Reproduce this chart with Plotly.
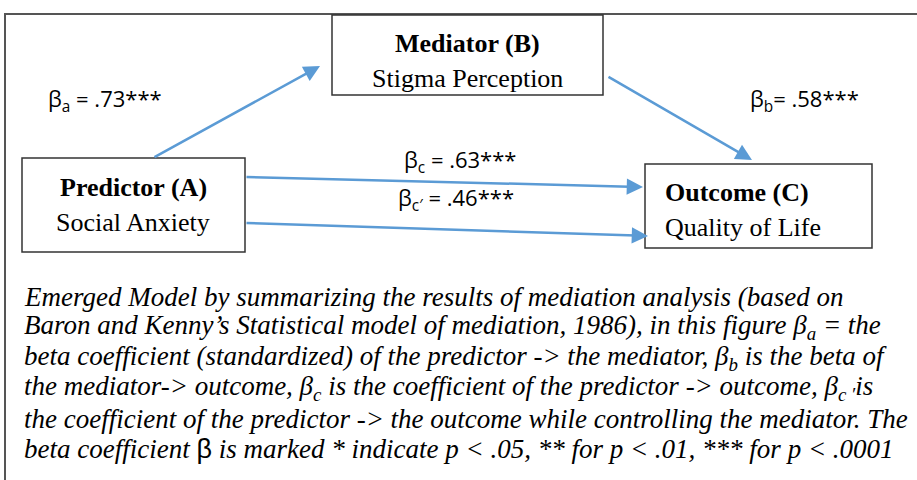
import plotly.graph_objects as go

# ---- data ----
node_titles = ["Predictor (A)", "Mediator (B)", "Outcome (C)"]
node_subtitles = ["Social Anxiety", "Stigma Perception", "Quality of Life"]
path_names = ["a", "b", "c", "c′"]
path_betas = [".73", ".58", ".63", ".46"]
path_stars = ["***", "***", "***", "***"]
caption_lines = [
    "Emerged Model by summarizing the results of mediation analysis (based on",
    "Baron and Kenny’s Statistical model of mediation, 1986), in this figure β<sub>a</sub> = the",
    "beta coefficient (standardized) of the predictor -> the mediator, β<sub>b</sub> is the beta of",
    "the mediator-> outcome, β<sub>c</sub> is the coefficient of the predictor -> outcome, β<sub>c ′</sub>is",
    "the coefficient of the predictor -> the outcome while controlling the mediator. The",
    "beta coefficient <span style=\"font-family:Liberation Sans;font-style:normal\">β</span> is marked * indicate p < .05, ** for p < .01, *** for p < .0001",
]

W, H = 917, 480
BLUE = "#5B9BD5"
BOXC = "#333333"
SERIF = "Liberation Serif, Times New Roman, serif"
SANS = "Open Sans, Carlito, Calibri, sans-serif"
SF = 26

fig = go.Figure()
fig.add_trace(go.Scatter(x=[0, W], y=[0, H], mode="markers", marker=dict(opacity=0), hoverinfo="skip", showlegend=False))

shapes = []
shapes.append(dict(type="rect", x0=5, y0=14, x1=W + 10, y1=H + 10, line=dict(color="#555555", width=2), layer="below"))

boxes = [(22, 158, 245, 252), (332, 15, 603, 95), (645, 164, 872, 248)]
for (x0, y0, x1, y1) in boxes:
    shapes.append(dict(type="rect", x0=x0, y0=y0, x1=x1, y1=y1,
                       line=dict(color=BOXC, width=1.5), fillcolor="rgba(0,0,0,0)"))

annotations = []
def txt(x, y, s, anchor="center", size=SF, fam=SERIF):
    annotations.append(dict(x=x, y=y, text=s, showarrow=False, xanchor=anchor, yanchor="middle",
                            font=dict(family=fam, size=size, color="#000")))

txt(133, 187, "<b>" + node_titles[0] + "</b>")
txt(133, 222, node_subtitles[0])
txt(467, 43, "<b>" + node_titles[1] + "</b>")
txt(467, 78, node_subtitles[1])
txt(663, 192, "<b>" + node_titles[2] + "</b>", "left")
txt(663, 227, node_subtitles[2], "left")

arrows = [((153, 158), (320, 66)), ((607, 76), (752, 160)), ((245, 177), (643, 187)), ((245, 223), (648, 236))]
for (tx, ty), (hx, hy) in arrows:
    annotations.append(dict(x=hx, y=hy, ax=tx, ay=ty, xref="x", yref="y", axref="x", ayref="y",
                            text="", showarrow=True, arrowhead=2, arrowsize=1.3, arrowwidth=2.5,
                            arrowcolor=BLUE, standoff=0, startstandoff=0))

label_pos = [(46, 100), (748, 100), (402, 161), (396, 199)]
for i, (lx, ly) in enumerate(label_pos):
    sep = "= " if path_names[i] == "b" else " = "
    s = "β<sub>" + path_names[i] + "</sub>" + sep + path_betas[i] + path_stars[i]
    txt(lx, ly, s, "left", 22, SANS)

cap_y0, cap_dy = 297, 30.4
for i, line in enumerate(caption_lines):
    txt(22, cap_y0 + i * cap_dy, "<i>" + line + "</i>", "left", 27)

fig.update_layout(
    width=W, height=H, margin=dict(l=0, r=0, t=0, b=0),
    paper_bgcolor="white", plot_bgcolor="white",
    xaxis=dict(range=[0, W], visible=False, fixedrange=True),
    yaxis=dict(range=[H, 0], visible=False, fixedrange=True),
    shapes=shapes, annotations=annotations, showlegend=False,
)
fig.write_html("out.html", config={"displayModeBar": False, "staticPlot": True},
               post_script="document.body.style.margin='0';document.body.style.overflow='hidden';")
